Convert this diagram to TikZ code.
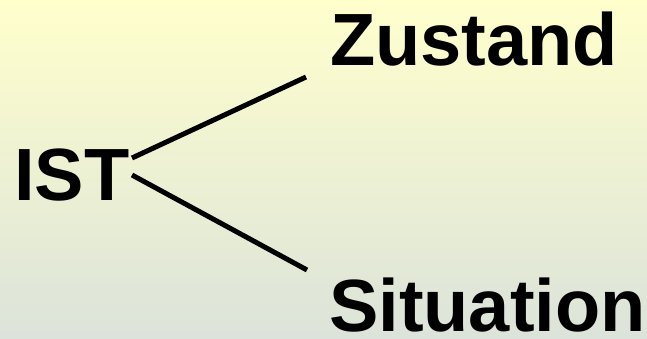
\documentclass[tikz,border=0pt]{standalone}
\usepackage{fontspec}
\setmainfont{Liberation Sans}
\definecolor{bgtop}{RGB}{255,255,204}
\definecolor{bgmid}{RGB}{243,246,213}
\definecolor{bgbot}{RGB}{220,227,218}
\tikzset{
  lbl/.style={anchor=base west, inner sep=0pt, font=\bfseries\fontsize{74}{80}\selectfont, text=black},
  conn/.style={line width=5pt, black}
}
\begin{document}
\begin{tikzpicture}[x=1pt,y=1pt]
\useasboundingbox (0,0) rectangle (647,338);
\shade[top color=bgtop, middle color=bgmid, bottom color=bgbot] (0,0) rectangle (647,338);
\node[lbl] (ist) at (14,138) {IST};
\node[lbl] (zu) at (330,272) {Zustand};
\node[lbl, text depth=0pt] (si) at (329,7) {Situation};
\coordinate (a1) at (132,180);
\coordinate (a2) at (306,261);
\coordinate (b1) at (132,163);
\coordinate (b2) at (307,68);
\draw[conn] (a1) -- (a2);
\draw[conn] (b1) -- (b2);
\end{tikzpicture}
\end{document}
